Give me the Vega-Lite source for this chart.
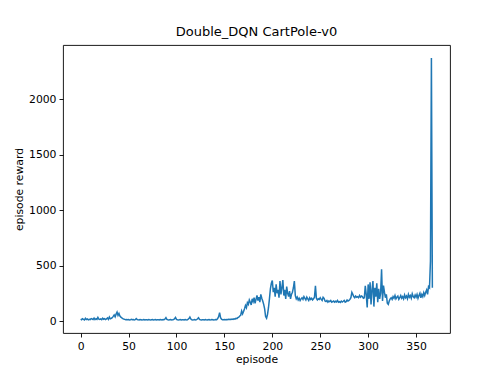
{
  "$schema": "https://vega.github.io/schema/vega-lite/v6.json",
  "width": 387,
  "height": 288,
  "autosize": {"type": "none"},
  "padding": {"left": 63, "top": 45, "right": 50, "bottom": 42},
  "background": "white",
  "title": {"text": "Double_DQN CartPole-v0", "font": "DejaVu Sans", "fontSize": 13, "fontWeight": "normal", "color": "black", "offset": 6, "anchor": "middle"},
  "data": {"values": [
{"episode":0,"reward":17},{"episode":1,"reward":12},{"episode":2,"reward":21},{"episode":3,"reward":15},{"episode":4,"reward":10},{"episode":5,"reward":24},{"episode":6,"reward":14},{"episode":7,"reward":19},{"episode":8,"reward":11},{"episode":9,"reward":16},
{"episode":10,"reward":13},{"episode":11,"reward":22},{"episode":12,"reward":18},{"episode":13,"reward":14},{"episode":14,"reward":26},{"episode":15,"reward":12},{"episode":16,"reward":20},{"episode":17,"reward":15},{"episode":18,"reward":33},{"episode":19,"reward":17},
{"episode":20,"reward":14},{"episode":21,"reward":19},{"episode":22,"reward":12},{"episode":23,"reward":25},{"episode":24,"reward":16},{"episode":25,"reward":21},{"episode":26,"reward":13},{"episode":27,"reward":18},{"episode":28,"reward":28},{"episode":29,"reward":15},
{"episode":30,"reward":36},{"episode":31,"reward":20},{"episode":32,"reward":24},{"episode":33,"reward":30},{"episode":34,"reward":42},{"episode":35,"reward":55},{"episode":36,"reward":38},{"episode":37,"reward":62},{"episode":38,"reward":80},{"episode":39,"reward":50},
{"episode":40,"reward":68},{"episode":41,"reward":44},{"episode":42,"reward":35},{"episode":43,"reward":28},{"episode":44,"reward":22},{"episode":45,"reward":18},{"episode":46,"reward":15},{"episode":47,"reward":12},{"episode":48,"reward":14},{"episode":49,"reward":11},
{"episode":50,"reward":13},{"episode":51,"reward":10},{"episode":52,"reward":12},{"episode":53,"reward":15},{"episode":54,"reward":11},{"episode":55,"reward":14},{"episode":56,"reward":10},{"episode":57,"reward":12},{"episode":58,"reward":22},{"episode":59,"reward":13},
{"episode":60,"reward":11},{"episode":61,"reward":10},{"episode":62,"reward":14},{"episode":63,"reward":12},{"episode":64,"reward":10},{"episode":65,"reward":11},{"episode":66,"reward":13},{"episode":67,"reward":10},{"episode":68,"reward":12},{"episode":69,"reward":11},
{"episode":70,"reward":10},{"episode":71,"reward":13},{"episode":72,"reward":11},{"episode":73,"reward":10},{"episode":74,"reward":12},{"episode":75,"reward":14},{"episode":76,"reward":10},{"episode":77,"reward":11},{"episode":78,"reward":13},{"episode":79,"reward":10},
{"episode":80,"reward":12},{"episode":81,"reward":11},{"episode":82,"reward":10},{"episode":83,"reward":14},{"episode":84,"reward":12},{"episode":85,"reward":10},{"episode":86,"reward":13},{"episode":87,"reward":11},{"episode":88,"reward":18},{"episode":89,"reward":30},
{"episode":90,"reward":14},{"episode":91,"reward":11},{"episode":92,"reward":10},{"episode":93,"reward":12},{"episode":94,"reward":13},{"episode":95,"reward":10},{"episode":96,"reward":11},{"episode":97,"reward":14},{"episode":98,"reward":20},{"episode":99,"reward":32},
{"episode":100,"reward":15},{"episode":101,"reward":12},{"episode":102,"reward":10},{"episode":103,"reward":11},{"episode":104,"reward":13},{"episode":105,"reward":10},{"episode":106,"reward":12},{"episode":107,"reward":11},{"episode":108,"reward":10},{"episode":109,"reward":13},
{"episode":110,"reward":11},{"episode":111,"reward":10},{"episode":112,"reward":14},{"episode":113,"reward":22},{"episode":114,"reward":36},{"episode":115,"reward":18},{"episode":116,"reward":12},{"episode":117,"reward":10},{"episode":118,"reward":11},{"episode":119,"reward":13},
{"episode":120,"reward":10},{"episode":121,"reward":12},{"episode":122,"reward":20},{"episode":123,"reward":30},{"episode":124,"reward":14},{"episode":125,"reward":11},{"episode":126,"reward":10},{"episode":127,"reward":12},{"episode":128,"reward":11},{"episode":129,"reward":10},
{"episode":130,"reward":13},{"episode":131,"reward":11},{"episode":132,"reward":10},{"episode":133,"reward":12},{"episode":134,"reward":14},{"episode":135,"reward":10},{"episode":136,"reward":11},{"episode":137,"reward":13},{"episode":138,"reward":12},{"episode":139,"reward":10},
{"episode":140,"reward":11},{"episode":141,"reward":14},{"episode":142,"reward":12},{"episode":143,"reward":22},{"episode":144,"reward":40},{"episode":145,"reward":75},{"episode":146,"reward":30},{"episode":147,"reward":16},{"episode":148,"reward":12},{"episode":149,"reward":11},
{"episode":150,"reward":13},{"episode":151,"reward":12},{"episode":152,"reward":14},{"episode":153,"reward":12},{"episode":154,"reward":15},{"episode":155,"reward":13},{"episode":156,"reward":16},{"episode":157,"reward":14},{"episode":158,"reward":18},{"episode":159,"reward":15},
{"episode":160,"reward":20},{"episode":161,"reward":17},{"episode":162,"reward":24},{"episode":163,"reward":22},{"episode":164,"reward":30},{"episode":165,"reward":35},{"episode":166,"reward":45},{"episode":167,"reward":52},{"episode":168,"reward":90},{"episode":169,"reward":65},
{"episode":170,"reward":85},{"episode":171,"reward":110},{"episode":172,"reward":140},{"episode":173,"reward":120},{"episode":174,"reward":165},{"episode":175,"reward":150},{"episode":176,"reward":190},{"episode":177,"reward":170},{"episode":178,"reward":145},{"episode":179,"reward":200},
{"episode":180,"reward":175},{"episode":181,"reward":210},{"episode":182,"reward":160},{"episode":183,"reward":195},{"episode":184,"reward":230},{"episode":185,"reward":185},{"episode":186,"reward":215},{"episode":187,"reward":170},{"episode":188,"reward":240},{"episode":189,"reward":205},
{"episode":190,"reward":180},{"episode":191,"reward":150},{"episode":192,"reward":110},{"episode":193,"reward":40},{"episode":194,"reward":25},{"episode":195,"reward":60},{"episode":196,"reward":120},{"episode":197,"reward":200},{"episode":198,"reward":290},{"episode":199,"reward":340},
{"episode":200,"reward":365},{"episode":201,"reward":260},{"episode":202,"reward":300},{"episode":203,"reward":220},{"episode":204,"reward":330},{"episode":205,"reward":250},{"episode":206,"reward":280},{"episode":207,"reward":210},{"episode":208,"reward":360},{"episode":209,"reward":240},
{"episode":210,"reward":300},{"episode":211,"reward":370},{"episode":212,"reward":230},{"episode":213,"reward":280},{"episode":214,"reward":200},{"episode":215,"reward":310},{"episode":216,"reward":250},{"episode":217,"reward":220},{"episode":218,"reward":270},{"episode":219,"reward":200},
{"episode":220,"reward":240},{"episode":221,"reward":260},{"episode":222,"reward":300},{"episode":223,"reward":360},{"episode":224,"reward":230},{"episode":225,"reward":200},{"episode":226,"reward":215},{"episode":227,"reward":190},{"episode":228,"reward":205},{"episode":229,"reward":185},
{"episode":230,"reward":200},{"episode":231,"reward":210},{"episode":232,"reward":195},{"episode":233,"reward":220},{"episode":234,"reward":205},{"episode":235,"reward":190},{"episode":236,"reward":215},{"episode":237,"reward":200},{"episode":238,"reward":185},{"episode":239,"reward":210},
{"episode":240,"reward":195},{"episode":241,"reward":205},{"episode":242,"reward":190},{"episode":243,"reward":200},{"episode":244,"reward":215},{"episode":245,"reward":317},{"episode":246,"reward":205},{"episode":247,"reward":190},{"episode":248,"reward":200},{"episode":249,"reward":195},
{"episode":250,"reward":210},{"episode":251,"reward":195},{"episode":252,"reward":185},{"episode":253,"reward":215},{"episode":254,"reward":205},{"episode":255,"reward":180},{"episode":256,"reward":175},{"episode":257,"reward":185},{"episode":258,"reward":170},{"episode":259,"reward":180},
{"episode":260,"reward":175},{"episode":261,"reward":185},{"episode":262,"reward":170},{"episode":263,"reward":175},{"episode":264,"reward":180},{"episode":265,"reward":170},{"episode":266,"reward":178},{"episode":267,"reward":172},{"episode":268,"reward":185},{"episode":269,"reward":170},
{"episode":270,"reward":175},{"episode":271,"reward":168},{"episode":272,"reward":180},{"episode":273,"reward":172},{"episode":274,"reward":178},{"episode":275,"reward":185},{"episode":276,"reward":170},{"episode":277,"reward":175},{"episode":278,"reward":190},{"episode":279,"reward":180},
{"episode":280,"reward":185},{"episode":281,"reward":195},{"episode":282,"reward":210},{"episode":283,"reward":258},{"episode":284,"reward":240},{"episode":285,"reward":220},{"episode":286,"reward":210},{"episode":287,"reward":225},{"episode":288,"reward":215},{"episode":289,"reward":220},
{"episode":290,"reward":210},{"episode":291,"reward":230},{"episode":292,"reward":215},{"episode":293,"reward":225},{"episode":294,"reward":220},{"episode":295,"reward":205},{"episode":296,"reward":210},{"episode":297,"reward":317},{"episode":298,"reward":240},{"episode":299,"reward":123},
{"episode":300,"reward":330},{"episode":301,"reward":200},{"episode":302,"reward":350},{"episode":303,"reward":150},{"episode":304,"reward":280},{"episode":305,"reward":360},{"episode":306,"reward":130},{"episode":307,"reward":300},{"episode":308,"reward":220},{"episode":309,"reward":340},
{"episode":310,"reward":170},{"episode":311,"reward":290},{"episode":312,"reward":200},{"episode":313,"reward":250},{"episode":314,"reward":467},{"episode":315,"reward":180},{"episode":316,"reward":320},{"episode":317,"reward":260},{"episode":318,"reward":210},{"episode":319,"reward":240},
{"episode":320,"reward":160},{"episode":321,"reward":150},{"episode":322,"reward":180},{"episode":323,"reward":200},{"episode":324,"reward":210},{"episode":325,"reward":195},{"episode":326,"reward":220},{"episode":327,"reward":205},{"episode":328,"reward":230},{"episode":329,"reward":200},
{"episode":330,"reward":215},{"episode":331,"reward":225},{"episode":332,"reward":195},{"episode":333,"reward":210},{"episode":334,"reward":230},{"episode":335,"reward":205},{"episode":336,"reward":220},{"episode":337,"reward":200},{"episode":338,"reward":235},{"episode":339,"reward":210},
{"episode":340,"reward":225},{"episode":341,"reward":200},{"episode":342,"reward":240},{"episode":343,"reward":215},{"episode":344,"reward":230},{"episode":345,"reward":205},{"episode":346,"reward":245},{"episode":347,"reward":220},{"episode":348,"reward":210},{"episode":349,"reward":235},
{"episode":350,"reward":215},{"episode":351,"reward":240},{"episode":352,"reward":205},{"episode":353,"reward":230},{"episode":354,"reward":250},{"episode":355,"reward":210},{"episode":356,"reward":240},{"episode":357,"reward":220},{"episode":358,"reward":255},{"episode":359,"reward":230},
{"episode":360,"reward":260},{"episode":361,"reward":280},{"episode":362,"reward":240},{"episode":363,"reward":310},{"episode":364,"reward":300},{"episode":365,"reward":540},{"episode":366,"reward":2370},{"episode":367,"reward":300}
  ]},
  "mark": {"type": "line", "color": "#1f77b4", "strokeWidth": 1.5, "clip": true},
  "encoding": {
    "x": {"field": "episode", "type": "quantitative", "title": "episode",
      "scale": {"domain": [-18.4, 385.4], "nice": false, "zero": false},
      "axis": {"values": [0, 50, 100, 150, 200, 250, 300, 350], "grid": false, "format": "d"}},
    "y": {"field": "reward", "type": "quantitative", "title": "episode reward",
      "scale": {"domain": [-108, 2488], "nice": false, "zero": false},
      "axis": {"values": [0, 500, 1000, 1500, 2000], "grid": false, "format": "d"}}
  },
  "config": {
    "view": {"stroke": "black", "strokeWidth": 0.9},
    "axis": {
      "domain": false,
      "tickColor": "black", "tickSize": 4, "tickWidth": 0.9,
      "labelFont": "DejaVu Sans", "labelFontSize": 10.8, "labelColor": "black", "labelPadding": 3,
      "titleFont": "DejaVu Sans", "titleFontSize": 10.8, "titleFontWeight": "normal", "titleColor": "black"
    },
    "axisX": {"titlePadding": 3},
    "axisY": {"titlePadding": 4}
  }
}
